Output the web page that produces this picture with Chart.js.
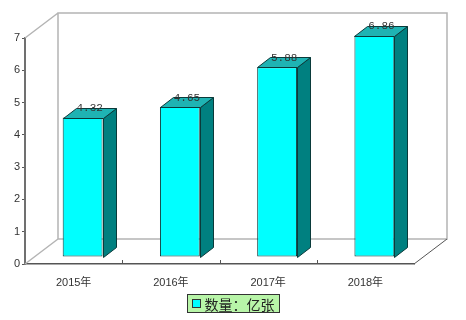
<!DOCTYPE html>
<html>
<head>
<meta charset="utf-8">
<script src="https://cdn.jsdelivr.net/npm/chart.js@4.4.1/dist/chart.umd.min.js"></script>
<style>
  html, body { margin: 0; padding: 0; background: #fff; }
  #wrap { width: 466px; height: 320px; }
</style>
</head>
<body>
<div id="wrap"><canvas id="chart" width="466" height="320"></canvas></div>
<script>
// data
const years = ['2015年', '2016年', '2017年', '2018年'];
const amounts = [4.32, 4.65, 5.88, 6.86];
const seriesName = '数量：亿张';
const yTicks = [0, 1, 2, 3, 4, 5, 6, 7];

// 3D look
const wallDepth = { dx: 33, dy: -25 };
const barShift = { dx: 9, dy: -7 };
const barDepth = { dx: 13, dy: -10 };

const threeD = {
    id: 'threeD',
    beforeDatasetsDraw(chart) {
        const { ctx, chartArea: a } = chart;
        const dx = wallDepth.dx, dy = wallDepth.dy;
        ctx.save();
        ctx.strokeStyle = '#b4b4b4';
        ctx.lineWidth = 1.5;
        ctx.beginPath();
        // back wall
        ctx.rect(a.left + dx, a.top + dy, a.right - a.left, a.bottom - a.top);
        // side wall top edge + floor edges
        ctx.moveTo(a.left, a.top); ctx.lineTo(a.left + dx, a.top + dy);
        ctx.moveTo(a.left, a.bottom); ctx.lineTo(a.left + dx, a.bottom + dy);
        ctx.stroke();
        ctx.strokeStyle = '#555';
        ctx.lineWidth = 1;
        ctx.beginPath();
        ctx.moveTo(a.right, a.bottom); ctx.lineTo(a.right + dx, a.bottom + dy);
        ctx.stroke();
        // category boundary ticks on the x axis
        const xs = chart.scales.x;
        ctx.strokeStyle = '#555';
        ctx.beginPath();
        for (let i = 0; i < years.length - 1; i++) {
            const bx = Math.round((xs.getPixelForValue(i) + xs.getPixelForValue(i + 1)) / 2) + 0.5;
            ctx.moveTo(bx, a.bottom); ctx.lineTo(bx, a.bottom - 4);
        }
        ctx.stroke();
        ctx.restore();
        // bars are drawn a little into the depth
        ctx.save();
        ctx.translate(barShift.dx, barShift.dy);
    },
    afterDatasetsDraw(chart) {
        const { ctx } = chart;
        const meta = chart.getDatasetMeta(0);
        ctx.lineWidth = 1;
        ctx.strokeStyle = '#0a3a3a';
        meta.data.forEach((bar, i) => {
            const left = Math.round(bar.x - bar.width / 2) + 0.5;
            const right = Math.round(bar.x + bar.width / 2) + 0.5;
            const top = Math.round(bar.y) + 0.5;
            const bottom = Math.round(bar.base) + 0.5;
            // side face
            ctx.fillStyle = '#008080';
            ctx.beginPath();
            ctx.moveTo(right, top);
            ctx.lineTo(right + barDepth.dx, top + barDepth.dy);
            ctx.lineTo(right + barDepth.dx, bottom + barDepth.dy);
            ctx.lineTo(right, bottom);
            ctx.closePath();
            ctx.fill(); ctx.stroke();
            // top face
            ctx.fillStyle = '#1fb3b3';
            ctx.beginPath();
            ctx.moveTo(left, top);
            ctx.lineTo(left + barDepth.dx, top + barDepth.dy);
            ctx.lineTo(right + barDepth.dx, top + barDepth.dy);
            ctx.lineTo(right, top);
            ctx.closePath();
            ctx.fill(); ctx.stroke();
            // value label
            ctx.fillStyle = '#333';
            ctx.font = '11px "Liberation Mono", monospace';
            ctx.textAlign = 'center';
            ctx.textBaseline = 'middle';
            ctx.fillText(amounts[i].toFixed(2), bar.x + 7, bar.y - 9);
        });
        ctx.restore();
    },
    afterDraw(chart) {
        // legend box
        const { ctx } = chart;
        ctx.save();
        ctx.font = '14px "Noto Sans CJK SC", sans-serif';
        const tw = ctx.measureText(seriesName).width;
        const w = tw + 22, h = 18;
        const x = Math.round((chart.width - w) / 2) + 0.5, y = 294.5;
        ctx.fillStyle = '#b8f5a8';
        ctx.strokeStyle = '#333';
        ctx.lineWidth = 1;
        ctx.fillRect(x, y, w, h);
        ctx.strokeRect(x, y, w, h);
        ctx.fillStyle = '#00ffff';
        ctx.fillRect(x + 5, y + 5, 8, 8);
        ctx.strokeRect(x + 5, y + 5, 8, 8);
        ctx.fillStyle = '#222';
        ctx.textBaseline = 'middle';
        ctx.textAlign = 'left';
        ctx.fillText(seriesName, x + 17, y + h / 2 + 1);
        ctx.restore();
    }
};

new Chart(document.getElementById('chart'), {
    type: 'bar',
    data: {
        labels: years,
        datasets: [{
            label: seriesName,
            data: amounts,
            backgroundColor: '#00ffff',
            borderColor: '#0a3a3a',
            borderWidth: 1,
            borderSkipped: false,
            barPercentage: 0.41,
            categoryPercentage: 1.0
        }]
    },
    options: {
        responsive: false,
        animation: false,
        devicePixelRatio: 1,
        layout: { padding: { top: 38, right: 52, left: 0, bottom: 0 } },
        plugins: {
            legend: { display: false },
            tooltip: { enabled: false }
        },
        scales: {
            x: {
                grid: { display: false },
                border: { display: true, color: '#555', width: 1.5 },
                ticks: { color: '#333', padding: 4, font: { size: 11, family: 'Arial, "Liberation Sans", "Noto Sans CJK SC"' } },
                afterFit: s => { s.height = 56; }
            },
            y: {
                min: 0,
                max: 7,
                afterBuildTicks: s => { s.ticks = yTicks.map(v => ({ value: v })); },
                grid: { drawOnChartArea: false, drawTicks: true, tickLength: 3, color: '#555' },
                border: { display: true, color: '#707070', width: 2 },
                ticks: { color: '#333', padding: 2, font: { size: 11, family: 'Arial, "Liberation Sans"' } },
                afterFit: s => { s.width = 25; }
            }
        }
    },
    plugins: [threeD]
});
</script>
</body>
</html>
